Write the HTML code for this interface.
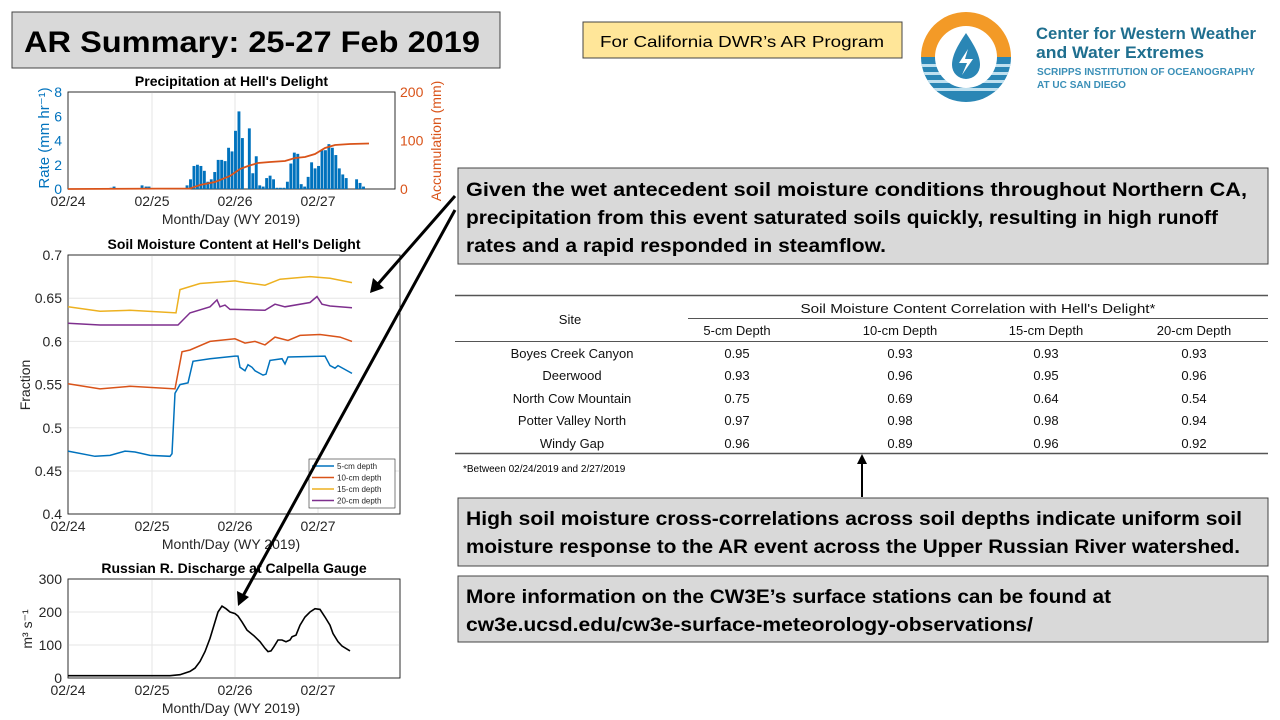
<!DOCTYPE html>
<html><head><meta charset="utf-8"><style>
html,body{margin:0;padding:0;background:#fff;}
svg{display:block;font-family:"Liberation Sans",sans-serif;}
</style></head><body>
<svg id="s" width="1280" height="720" viewBox="0 0 1280 720" xmlns="http://www.w3.org/2000/svg">
<rect width="1280" height="720" fill="#fff"/>
<!-- title -->
<rect x="12" y="12" width="488" height="56" fill="#d9d9d9" stroke="#444" stroke-width="1"/>
<text x="24" y="52" font-size="30" font-weight="bold" textLength="456" lengthAdjust="spacingAndGlyphs">AR Summary: 25-27 Feb 2019</text>
<rect x="583" y="22" width="319" height="36" fill="#ffe699" stroke="#444" stroke-width="1"/>
<text x="600" y="47" font-size="16" textLength="284" lengthAdjust="spacingAndGlyphs">For California DWR’s AR Program</text>
<!-- logo -->
<defs><clipPath id="lc"><circle cx="966" cy="57" r="45"/></clipPath></defs>
<g clip-path="url(#lc)">
<rect x="918" y="10" width="96" height="47" fill="#f39a27"/>
<rect x="918" y="57" width="96" height="48" fill="#2a86b5"/>
<rect x="918" y="64" width="96" height="3" fill="#bfe0ef"/>
<rect x="918" y="72" width="96" height="3" fill="#bfe0ef"/>
<rect x="918" y="80" width="96" height="3" fill="#bfe0ef"/>
<rect x="918" y="88" width="96" height="3" fill="#bfe0ef"/>
</g>
<circle cx="966" cy="57" r="31" fill="#fff"/>
<path d="M966 33 C958 45 952 55 952 65 A14 14 0 0 0 980 65 C980 55 974 45 966 33Z" fill="#2a86b5"/>
<path d="M968 49 L959 63 L967 63 L962 75 L973 59 L965 59 Z" fill="#fff"/>
<text x="1036" y="39" font-size="17" font-weight="bold" fill="#1f6f8f" textLength="220" lengthAdjust="spacingAndGlyphs">Center for Western Weather</text>
<text x="1036" y="58" font-size="17" font-weight="bold" fill="#1f6f8f" textLength="168" lengthAdjust="spacingAndGlyphs">and Water Extremes</text>
<text x="1037" y="75" font-size="10" font-weight="bold" fill="#3a8fb7" textLength="218" lengthAdjust="spacingAndGlyphs">SCRIPPS INSTITUTION OF OCEANOGRAPHY</text>
<text x="1037" y="88" font-size="10" font-weight="bold" fill="#3a8fb7" textLength="89" lengthAdjust="spacingAndGlyphs">AT UC SAN DIEGO</text>

<!-- text boxes -->
<rect x="458" y="168" width="810" height="96" fill="#d9d9d9" stroke="#444"/>
<g font-size="19" font-weight="bold">
<text x="466" y="196" textLength="781" lengthAdjust="spacingAndGlyphs">Given the wet antecedent soil moisture conditions throughout Northern CA,</text>
<text x="466" y="224" textLength="752" lengthAdjust="spacingAndGlyphs">precipitation from this event saturated soils quickly, resulting in high runoff</text>
<text x="466" y="252" textLength="420" lengthAdjust="spacingAndGlyphs">rates and a rapid responded in steamflow.</text>
</g>
<rect x="458" y="498" width="810" height="68" fill="#d9d9d9" stroke="#444"/>
<rect x="458" y="576" width="810" height="66" fill="#d9d9d9" stroke="#444"/>
<g font-size="19" font-weight="bold">
<text x="466" y="525" textLength="776" lengthAdjust="spacingAndGlyphs">High soil moisture cross-correlations across soil depths indicate uniform soil</text>
<text x="466" y="553" textLength="774" lengthAdjust="spacingAndGlyphs">moisture response to the AR event across the Upper Russian River watershed.</text>
<text x="466" y="603" textLength="645" lengthAdjust="spacingAndGlyphs">More information on the CW3E’s surface stations can be found at</text>
<text x="466" y="631" textLength="567" lengthAdjust="spacingAndGlyphs">cw3e.ucsd.edu/cw3e-surface-meteorology-observations/</text>
</g>

<!-- table -->
<g stroke="#555">
<line x1="455" y1="295.5" x2="1268" y2="295.5" stroke-width="1.5"/>
<line x1="688" y1="318.5" x2="1268" y2="318.5"/>
<line x1="455" y1="341.5" x2="1268" y2="341.5"/>
<line x1="455" y1="453.5" x2="1268" y2="453.5" stroke-width="1.5"/>
</g>
<g font-size="13" text-anchor="middle" fill="#111">
<text x="570" y="324">Site</text>
<text x="978" y="313" textLength="355" lengthAdjust="spacingAndGlyphs">Soil Moisture Content Correlation with Hell's Delight*</text>
<text x="737" y="335">5-cm Depth</text><text x="900" y="335">10-cm Depth</text><text x="1046" y="335">15-cm Depth</text><text x="1194" y="335">20-cm Depth</text>
<text x="572" y="358">Boyes Creek Canyon</text><text x="737" y="358">0.95</text><text x="900" y="358">0.93</text><text x="1046" y="358">0.93</text><text x="1194" y="358">0.93</text>
<text x="572" y="380">Deerwood</text><text x="737" y="380">0.93</text><text x="900" y="380">0.96</text><text x="1046" y="380">0.95</text><text x="1194" y="380">0.96</text>
<text x="572" y="403">North Cow Mountain</text><text x="737" y="403">0.75</text><text x="900" y="403">0.69</text><text x="1046" y="403">0.64</text><text x="1194" y="403">0.54</text>
<text x="572" y="425">Potter Valley North</text><text x="737" y="425">0.97</text><text x="900" y="425">0.98</text><text x="1046" y="425">0.98</text><text x="1194" y="425">0.94</text>
<text x="572" y="448">Windy Gap</text><text x="737" y="448">0.96</text><text x="900" y="448">0.89</text><text x="1046" y="448">0.96</text><text x="1194" y="448">0.92</text>
</g>
<text x="463" y="472" font-size="10">*Between  02/24/2019 and 2/27/2019</text>

<g id="charts"></g>

<!-- arrows -->
<g stroke="#000" stroke-width="3" fill="none">
<line x1="455" y1="196" x2="378" y2="284"/>
<line x1="455" y1="210" x2="243" y2="596"/>
<line x1="862" y1="497" x2="862" y2="462" stroke-width="2"/>
</g>
<polygon points="370,293 373,278 384,288" fill="#000"/>
<polygon points="238,606 237,591 249,597" fill="#000"/>
<polygon points="862,454 857,464 867,464" fill="#000"/>
</svg>
<script>
const NS="http://www.w3.org/2000/svg",G=document.getElementById('charts');
function el(t,a,txt){const e=document.createElementNS(NS,t);for(const k in a)e.setAttribute(k,a[k]);if(txt!==undefined)e.textContent=txt;G.appendChild(e);return e;}
const XT=[68,152,235,318],XL=['02/24','02/25','02/26','02/27'];
function axes(x0,x1,y0,y1,yt,title,ylab,xlab){
  el('rect',{x:x0,y:y0,width:x1-x0,height:y1-y0,fill:'#fff',stroke:'#262626','stroke-width':0.8});
  XT.slice(1).forEach(x=>el('line',{x1:x,y1:y0,x2:x,y2:y1,stroke:'#e6e6e6'}));
  yt.forEach(([y,l])=>{if(y>y0+1&&y<y1-1)el('line',{x1:x0,y1:y,x2:x1,y2:y,stroke:'#e6e6e6'});});
  el('rect',{x:x0,y:y0,width:x1-x0,height:y1-y0,fill:'none',stroke:'#262626','stroke-width':0.8});
  XT.forEach((x,i)=>el('text',{x:x,y:y1+17,'font-size':14,'text-anchor':'middle',fill:'#262626'},XL[i]));
  el('text',{x:(x0+x1)/2,y:y0-6,'font-size':14,'font-weight':'bold','text-anchor':'middle'},title);
  if(xlab)el('text',{x:231,y:y1+35,'font-size':14,'text-anchor':'middle',fill:'#262626'},xlab);
}
function pts(a,f){return a.map(p=>p[0]+','+f(p[1]).toFixed(1)).join(' ');}
// precip
axes(68,395,92,189,[],"Precipitation at Hell's Delight",null,'Month/Day (WY 2019)');
[0,2,4,6,8].forEach(v=>el('text',{x:62,y:189-v*12.125+5,'font-size':14,'text-anchor':'end',fill:'#0072BD'},v));
[0,100,200].forEach(v=>el('text',{x:400,y:189-v*0.485+5,'font-size':14,fill:'#D95319'},v));
const bars=[[111,0.1],[114,0.2],[142,0.3],[146,0.2],[149,0.2]];
const seq=[0.3,0.8,1.9,2.0,1.9,1.5,0.6,0.8,1.4,2.4,2.4,2.3,3.4,3.1,4.8,6.4,4.2,0,5.0,1.3,2.7,0.3,0.2,0.9,1.1,0.8,0.1,0.1,0.1,0.6,2.1,3.0,2.9,0.4,0.2,1.0,2.2,1.7,1.9,3.2,3.2,3.7,3.4,2.8,1.7,1.2,0.9,0,0,0.8,0.5,0.2];
seq.forEach((v,i)=>bars.push([187+i*3.46,v]));
bars.forEach(([x,v])=>{if(v>0)el('rect',{x:x-1.4,y:189-v*12.125,width:2.9,height:v*12.125,fill:'#0072BD'});});
el('polyline',{points:"68,189 190,188.5 200,185 215,182 230,176 240,169 248,166 258,163 270,162 285,161 295,158 305,157 315,154 325,148 335,145 350,144 369,143.5",fill:'none',stroke:'#D95319','stroke-width':1.8});
el('text',{transform:'translate(49,138) rotate(-90)','font-size':15,'text-anchor':'middle',fill:'#0072BD'},'Rate (mm hr⁻¹)');
el('text',{transform:'translate(441,141) rotate(-90)','font-size':14,'text-anchor':'middle',fill:'#D95319'},'Accumulation (mm)');
// soil
const sy=v=>255+(0.7-v)*864;
const syt=[0.4,0.45,0.5,0.55,0.6,0.65,0.7].map(v=>[sy(v),v]);
axes(68,400,255,514,syt,"Soil Moisture Content at Hell's Delight",null,'Month/Day (WY 2019)');
syt.forEach(([y,v])=>el('text',{x:62,y:y+5,'font-size':14,'text-anchor':'end',fill:'#262626'},v));
el('text',{transform:'translate(30,385) rotate(-90)','font-size':14,'text-anchor':'middle',fill:'#262626'},'Fraction');
const S={
'#0072BD':[[68,.473],[95,.467],[110,.468],[125,.473],[135,.472],[150,.468],[170,.467],[172,.47],[175,.54],[180,.55],[188,.552],[193,.577],[210,.58],[235,.583],[238,.583],[240,.57],[245,.566],[248,.573],[252,.57],[255,.566],[263,.561],[266,.562],[270,.578],[282,.58],[285,.574],[288,.582],[325,.583],[330,.572],[335,.569],[338,.572],[352,.563]],
'#D95319':[[68,.551],[100,.545],[130,.548],[175,.545],[182,.588],[190,.59],[210,.6],[235,.603],[245,.598],[255,.6],[265,.596],[275,.605],[288,.601],[300,.607],[320,.608],[340,.605],[352,.6]],
'#EDB120':[[68,.64],[100,.635],[130,.636],[176,.633],[180,.66],[200,.667],[235,.67],[245,.668],[265,.665],[280,.672],[310,.675],[330,.673],[352,.668]],
'#7E2F8E':[[68,.621],[100,.619],[178,.619],[190,.633],[210,.64],[217,.648],[220,.64],[225,.642],[230,.637],[235,.637],[265,.636],[275,.643],[285,.64],[310,.645],[317,.652],[322,.643],[330,.641],[352,.639]]};
for(const c in S)el('polyline',{points:pts(S[c],sy),fill:'none',stroke:c,'stroke-width':1.5});
el('rect',{x:309,y:459,width:86,height:49,fill:'#fff',stroke:'#262626','stroke-width':0.6});
[['#0072BD','5-cm depth'],['#D95319','10-cm depth'],['#EDB120','15-cm depth'],['#7E2F8E','20-cm depth']].forEach(([c,t],i)=>{
  const y=466+i*11.5;el('line',{x1:312,y1:y,x2:334,y2:y,stroke:c,'stroke-width':1.5});
  el('text',{x:337,y:y+3,'font-size':8,fill:'#262626'},t);});
// discharge
const qy=v=>678-v*0.33;
const qyt=[0,100,200,300].map(v=>[qy(v),v]);
axes(68,400,579,678,qyt,"Russian R. Discharge at Calpella Gauge",null,'Month/Day (WY 2019)');
qyt.forEach(([y,v])=>el('text',{x:62,y:y+5,'font-size':14,'text-anchor':'end',fill:'#262626'},v));
el('text',{transform:'translate(32,629) rotate(-90)','font-size':14,'text-anchor':'middle',fill:'#262626'},'m³ s⁻¹');
el('polyline',{points:pts([[68,7],[170,7],[180,10],[190,20],[195,30],[200,50],[205,80],[210,120],[215,170],[218,200],[222,218],[226,210],[230,200],[235,195],[238,188],[242,170],[247,145],[254,128],[260,110],[265,90],[268,80],[271,82],[274,95],[278,115],[282,115],[286,110],[290,115],[292,125],[296,130],[300,160],[305,185],[310,200],[315,210],[320,208],[325,185],[330,160],[333,135],[338,110],[342,97],[350,82]],qy),fill:'none',stroke:'#000','stroke-width':1.6});
</script>
</body></html>
